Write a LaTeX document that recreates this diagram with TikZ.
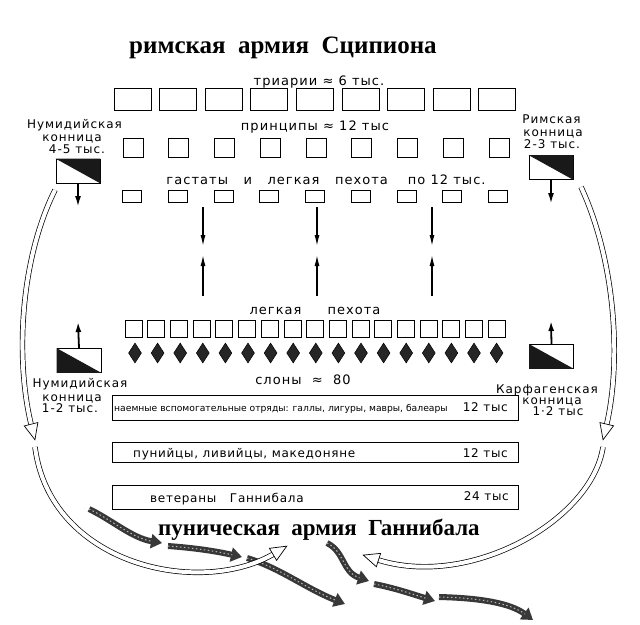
\documentclass[tikz,border=0pt]{standalone}
\usepackage{fontspec}
\setmainfont{DejaVu Sans}
\newfontfamily\lblfont[LetterSpace=8]{DejaVu Sans}
\newfontfamily\barfont[LetterSpace=6]{DejaVu Sans}
\newfontfamily\smlfont{DejaVu Sans}
\newfontfamily\ttlfont{Liberation Serif}
\usetikzlibrary{arrows.meta,decorations.markings,shapes.geometric}
\begin{document}
\begin{tikzpicture}[x=1pt,y=-1pt,
  box/.style={draw, line width=0.8pt, inner sep=0pt},
  tribox/.style={box, minimum width=37pt, minimum height=22pt},
  pribox/.style={box, minimum width=20pt, minimum height=19pt},
  hasbox/.style={box, minimum width=19pt, minimum height=12pt},
  libox/.style={box, minimum width=17pt, minimum height=17pt},
  eleph/.style={diamond, draw, fill=black!85, line width=0.5pt, minimum width=13pt, minimum height=20pt, inner sep=0pt},
  cavbox/.style={box, minimum width=44pt, minimum height=24pt},
  bar/.style={draw, line width=0.9pt, inner sep=0pt, minimum width=406pt},
  lbl/.style={font=\lblfont\fontsize{13}{15}\selectfont, inner sep=0pt, anchor=base},
  cavlbl/.style={font=\lblfont\fontsize{12}{14}\selectfont, inner sep=0pt, anchor=base},
  barlbl/.style={font=\barfont\fontsize{12}{14}\selectfont, inner sep=0pt, anchor=base west},
  smallbarlbl/.style={font=\smlfont\fontsize{9.2}{11}\selectfont, inner sep=0pt, anchor=base west},
  numlbl/.style={font=\barfont\fontsize{12}{14}\selectfont, inner sep=0pt, anchor=base east},
  ttl/.style={font=\ttlfont\bfseries\fontsize{25}{28}\selectfont, inner sep=0pt, anchor=base},
  ttlb/.style={font=\ttlfont\bfseries\fontsize{23}{26}\selectfont, inner sep=0pt, anchor=base},
  midarr/.style={line width=1.3pt, -{Latex[length=11pt,width=5pt]}},
  cavarr/.style={line width=1.2pt, -{Latex[length=10pt,width=6pt]}},
  hollow/.style={double=white, double distance=4pt, line width=0.7pt, shorten >=14pt},
  hhead/.style={postaction={decorate}, decoration={markings, mark=at position 0.999 with {\draw[line width=0.7pt, fill=white] (-16pt,7pt) -- (0pt,0pt) -- (-16pt,-7pt) -- cycle;}}},
  darr/.style={line width=6pt, draw=black!78, -{Triangle[width=14pt,length=11pt]},
    postaction={draw=gray!55, line width=1pt, dash pattern=on 1.5pt off 2.5pt, arrows=-, shorten >=10pt}}
]
\useasboundingbox (0,0) rectangle (640,624);

% titles
\node[ttl] (title) at (283,53) {римская\ \ армия\ \ Сципиона};
\node[ttlb] (title2) at (319,535) {пуническая\ \ армия\ \ Ганнибала};

% Roman lines
\node[lbl] (tril) at (319,85) {триарии ≈ 6 тыс.};
\foreach \i in {0,...,8} \node[tribox] (t\i) at ({132.5+45.6*\i},99.5) {};
\node[lbl] (pril) at (315,130) {принципы ≈ 12 тыс};
\foreach \i in {0,...,8} \node[pribox] (p\i) at ({133+45.75*\i},147.5) {};
\node[lbl] (hasl) at (326,184) {гастаты\ \ \ и\ \ \ легкая\ \ \ пехота\hspace{20pt}по 12 тыс.};
\foreach \i in {0,...,8} \node[hasbox] (h\i) at ({132+45.75*\i},196.5) {};

% central arrows
\foreach \x [count=\k] in {203,317,432} {
  \coordinate (ds\k) at (\x,207);
  \coordinate (de\k) at (\x,246);
  \coordinate (us\k) at (\x,296);
  \coordinate (ue\k) at (\x,255);
  \draw[midarr] (ds\k) -- (de\k);
  \draw[midarr] (us\k) -- (ue\k);
}

% Carthaginian lines
\node[lbl] (lil) at (315,314) {легкая\hspace{26pt}пехота};
\foreach \i in {0,...,16} \node[libox] (l\i) at ({133.5+22.7*\i},329) {};
\foreach \i in {0,...,16} \node[eleph] (e\i) at ({135+22.6*\i},353) {};
\node[lbl] (elel) at (303,384) {слоны\ \ ≈\ \ 80};

% bars
\node[bar, minimum height=25pt] (b1) at (315,407.5) {};
\node[smallbarlbl] (b1t) at (114,411) {наемные вспомогательные отряды: галлы, лигуры, мавры, балеары};
\node[numlbl] (b1n) at (508,411) {12 тыс};
\node[bar, minimum height=20pt] (b2) at (315,452) {};
\node[barlbl] (b2t) at (133,457) {пунийцы, ливийцы, македоняне};
\node[numlbl] (b2n) at (508,457) {12 тыс};
\node[bar, minimum height=24pt] (b3) at (315,497) {};
\node[barlbl] (b3t) at (150,502) {ветераны\ \ \ Ганнибала};
\node[numlbl] (b3n) at (509,500) {24 тыс};

% cavalry
\node[cavlbl] (c1a) at (74.5,128) {Нумидийская};
\node[cavlbl] (c1b) at (72,141) {конница};
\node[cavlbl] (c1c) at (77,153) {4-5 тыс.};
\node[cavbox] (c1) at (78,171) {};
\fill[black!90] (c1.north west) -- (c1.north east) -- (c1.south east) -- cycle;
\coordinate (c1e) at (78,206);
\draw[cavarr] (c1.south) -- (c1e);

\node[cavlbl] (c2a) at (551.5,123) {Римская};
\node[cavlbl] (c2b) at (553,136) {конница};
\node[cavlbl] (c2c) at (552,148) {2-3 тыс.};
\node[cavbox] (c2) at (551,167.5) {};
\fill[black!90] (c2.north west) -- (c2.north east) -- (c2.south east) -- cycle;
\coordinate (c2e) at (551,203);
\draw[cavarr] (c2.south) -- (c2e);

\node[cavbox] (c3) at (79,360.5) {};
\fill[black!90] (c3.north west) -- (c3.south west) -- (c3.south east) -- cycle;
\coordinate (c3e) at (78,322);
\draw[cavarr, line width=1.8pt] (c3.north) -- (c3e);
\node[cavlbl] (c3a) at (80,387) {Нумидийская};
\node[cavlbl] (c3b) at (72,401) {конница};
\node[cavlbl] (c3c) at (70,412) {1-2 тыс.};

\node[cavbox] (c4) at (551.5,356.5) {};
\fill[black!90] (c4.north west) -- (c4.south west) -- (c4.south east) -- cycle;
\coordinate (c4e) at (551,321);
\draw[cavarr, line width=1.8pt] (c4.north) -- (c4e);
\node[cavlbl] (c4a) at (547,393) {Карфагенская};
\node[cavlbl] (c4b) at (552,404) {конница};
\node[cavlbl] (c4c) at (558,415) {1·2 тыс};

% dark Carthaginian movement arrows
\coordinate (da1s) at (89,509);  \coordinate (da1e) at (162,543);
\coordinate (da2s) at (168,546); \coordinate (da2e) at (242,557);
\coordinate (da3s) at (247,558); \coordinate (da3e) at (345,604);
\coordinate (da4s) at (327,543); \coordinate (da4e) at (369,581);
\coordinate (da5s) at (374,584); \coordinate (da5e) at (435,601);
\coordinate (da6s) at (439,597); \coordinate (da6e) at (533,620);
\draw[darr] (da1s) .. controls (112,520) and (132,538) .. (da1e);
\draw[darr] (da2s) .. controls (195,548) and (215,551) .. (da2e);
\draw[darr] (da3s) .. controls (280,568) and (305,588) .. (da3e);
\draw[darr] (da4s) .. controls (345,552) and (342,572) .. (da4e);
\draw[darr] (da5s) .. controls (395,588) and (415,595) .. (da5e);
\draw[darr] (da6s) .. controls (480,598) and (510,603) .. (da6e);

% hollow Roman cavalry arrows
\coordinate (la1) at (55,190);  \coordinate (la1e) at (35,440);
\coordinate (la2) at (35,447);  \coordinate (la2e) at (287,546);
\coordinate (ra1) at (581,187); \coordinate (ra1e) at (603,440);
\coordinate (ra2) at (603,447); \coordinate (ra2e) at (363,555);
\draw[hollow] (la1) .. controls (20,260) and (15,360) .. (la1e);
\path[hhead] (la1) .. controls (20,260) and (15,360) .. (la1e);
\draw[hollow] (la2) .. controls (50,565) and (200,598) .. (la2e);
\path[hhead] (la2) .. controls (50,565) and (200,598) .. (la2e);
\draw[hollow] (ra1) .. controls (615,260) and (622,360) .. (ra1e);
\path[hhead] (ra1) .. controls (615,260) and (622,360) .. (ra1e);
\draw[hollow] (ra2) .. controls (592,520) and (470,590) .. (ra2e);
\path[hhead] (ra2) .. controls (592,520) and (470,590) .. (ra2e);
\end{tikzpicture}
\end{document}
